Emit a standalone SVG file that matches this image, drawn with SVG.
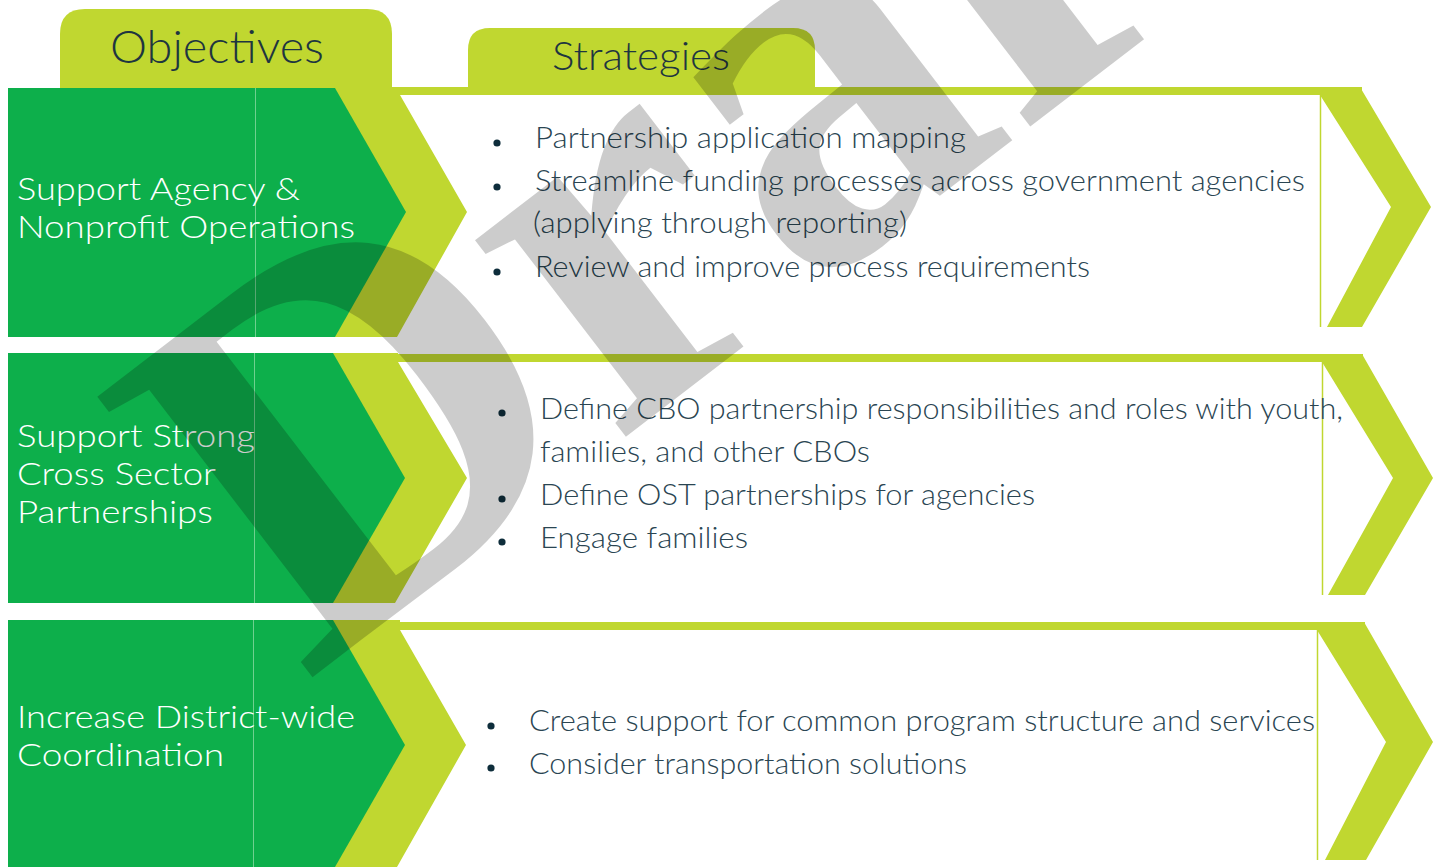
<svg xmlns="http://www.w3.org/2000/svg" width="1442" height="867" viewBox="0 0 1442 867">
<defs>
<style>
.lime{fill:#c0d730}
.green{fill:#0daf4b}
.vline{stroke:#6fd08f;stroke-width:1}
.rline{stroke:#c0d730;stroke-width:1.5}
.obj{font-family:Lato,"Liberation Sans",sans-serif;font-size:32px;fill:#ffffff;font-weight:300}
.str{font-family:Lato,"Liberation Sans",sans-serif;font-size:29px;fill:#2a4552;font-weight:300}
.hdr{font-family:Lato,"Liberation Sans",sans-serif;fill:#1e3540;font-weight:300}
.dot{fill:#0e2d3b}
.wm{font-family:"Liberation Serif",serif;font-weight:bold;font-size:540px;fill:#000;fill-opacity:0.2}
</style>
</defs>
<rect width="1442" height="867" fill="#ffffff"/>

<g id="tab-objectives">
<path class="lime" d="M60,90 V34 Q60,9 85,9 H367 Q392,9 392,34 V90 Z"/>
<text class="hdr" x="110" y="63" font-size="46" textLength="214" lengthAdjust="spacingAndGlyphs">Objectives</text>
</g>
<g id="tab-strategies">
<path class="lime" d="M468,90 V50 Q468,28 490,28 H793 Q815,28 815,50 V90 Z"/>
<text class="hdr" x="552" y="70" font-size="40" textLength="178" lengthAdjust="spacingAndGlyphs">Strategies</text>
</g>

<g id="row1">
<polygon class="lime" points="330,88 400,88 400,95 467,212 397,337 330,337"/>
<rect class="lime" x="392" y="87" width="970" height="8"/>
<polygon class="lime" points="1320,87 1360,87 1431,207 1362,327 1327,327 1391,207 1320,95"/>
<line class="rline" x1="1320.5" y1="95" x2="1320.5" y2="327"/>
<polygon class="green" points="8,88 335,88 406,212 335,337 8,337"/>
<line class="vline" x1="255.5" y1="88" x2="255.5" y2="337"/>
<text class="obj" x="17" y="200" textLength="283" lengthAdjust="spacingAndGlyphs">Support Agency &amp;</text>
<text class="obj" x="17" y="238" textLength="338" lengthAdjust="spacingAndGlyphs">Nonprofit Operations</text>
<circle class="dot" cx="497" cy="143" r="3.6"/>
<circle class="dot" cx="497" cy="187" r="3.6"/>
<circle class="dot" cx="497" cy="272" r="3.6"/>
<text class="str" x="535" y="148" textLength="431" lengthAdjust="spacingAndGlyphs">Partnership application mapping</text>
<text class="str" x="535" y="191" textLength="770" lengthAdjust="spacingAndGlyphs">Streamline funding processes across government agencies</text>
<text class="str" x="533" y="233" textLength="374" lengthAdjust="spacingAndGlyphs">(applying through reporting)</text>
<text class="str" x="535" y="277" textLength="555" lengthAdjust="spacingAndGlyphs">Review and improve process requirements</text>
</g>

<g id="row2">
<polygon class="lime" points="330,353 398,353 398,362 467,478 395,603 330,603"/>
<rect class="lime" x="395" y="354" width="968" height="8"/>
<polygon class="lime" points="1322,354 1362,354 1433,478 1365,595 1328,595 1393,478 1322,362"/>
<line class="rline" x1="1322.5" y1="362" x2="1322.5" y2="595"/>
<polygon class="green" points="8,353 333,353 405,478 333,603 8,603"/>
<line class="vline" x1="254.5" y1="353" x2="254.5" y2="603"/>
<text class="obj" x="17" y="447" textLength="238" lengthAdjust="spacingAndGlyphs">Support Strong</text>
<text class="obj" x="17" y="485" textLength="199" lengthAdjust="spacingAndGlyphs">Cross Sector</text>
<text class="obj" x="17" y="523" textLength="196" lengthAdjust="spacingAndGlyphs">Partnerships</text>
<circle class="dot" cx="502" cy="413" r="3.6"/>
<circle class="dot" cx="502" cy="499" r="3.6"/>
<circle class="dot" cx="502" cy="542" r="3.6"/>
<text class="str" x="540" y="419" textLength="803" lengthAdjust="spacingAndGlyphs">Define CBO partnership responsibilities and roles with youth,</text>
<text class="str" x="540" y="462" textLength="330" lengthAdjust="spacingAndGlyphs">families, and other CBOs</text>
<text class="str" x="540" y="505" textLength="495" lengthAdjust="spacingAndGlyphs">Define OST partnerships for agencies</text>
<text class="str" x="540" y="548" textLength="208" lengthAdjust="spacingAndGlyphs">Engage families</text>
</g>

<g id="row3">
<polygon class="lime" points="330,620 400,620 400,630 466,745 397,867 330,867"/>
<rect class="lime" x="395" y="622" width="970" height="8"/>
<polygon class="lime" points="1317,622 1364,622 1433,742 1366,860 1325,860 1386,742 1317,630"/>
<line class="rline" x1="1317.5" y1="630" x2="1317.5" y2="860"/>
<polygon class="green" points="8,620 333,620 405,745 335,867 8,867"/>
<line class="vline" x1="253.5" y1="620" x2="253.5" y2="867"/>
<text class="obj" x="17" y="728" textLength="338" lengthAdjust="spacingAndGlyphs">Increase District-wide</text>
<text class="obj" x="17" y="766" textLength="207" lengthAdjust="spacingAndGlyphs">Coordination</text>
<circle class="dot" cx="491" cy="726" r="3.6"/>
<circle class="dot" cx="491" cy="768" r="3.6"/>
<text class="str" x="529" y="731" textLength="786" lengthAdjust="spacingAndGlyphs">Create support for common program structure and services</text>
<text class="str" x="529" y="774" textLength="438" lengthAdjust="spacingAndGlyphs">Consider transportation solutions</text>
</g>

<g id="watermark">
<text class="wm" x="0" y="0" transform="translate(305,683) rotate(-37.5)">Draft</text>
</g>
</svg>
